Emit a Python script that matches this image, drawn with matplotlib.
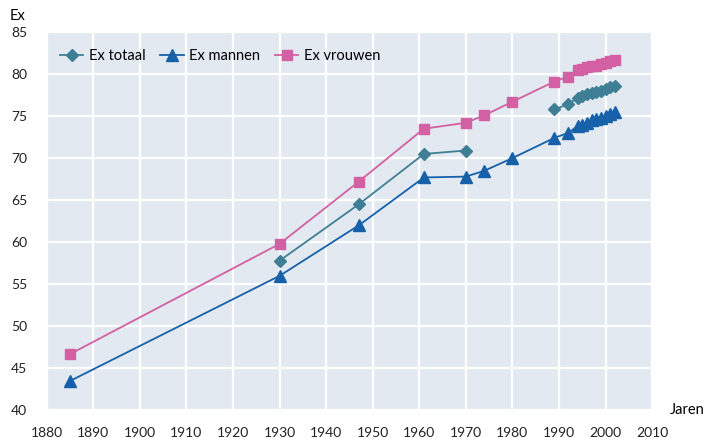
import matplotlib.pyplot as plt
import numpy as np

plt.rcParams['font.family'] = ['Lato', 'DejaVu Sans']

# jaren en levensverwachting (Ex)
jaren = [1885, 1930, 1947, 1961, 1970, 1974, 1980, 1989, 1992,
         1994, 1995, 1996, 1997, 1998, 1999, 2000, 2001, 2002]
ex_totaal = [np.nan, 57.8, 64.5, 70.5, 70.9, np.nan, np.nan, 75.8, 76.4,
             77.2, 77.4, 77.6, 77.8, 77.9, 78.0, 78.2, 78.4, 78.6]
ex_mannen = [43.5, 56.0, 62.0, 67.7, 67.8, 68.5, 70.0, 72.4, 73.0,
             73.8, 73.9, 74.2, 74.5, 74.6, 74.8, 75.0, 75.2, 75.5]
ex_vrouwen = [46.7, 59.8, 67.2, 73.5, 74.2, 75.1, 76.7, 79.1, 79.7,
              80.5, 80.6, 80.8, 80.9, 81.0, 81.2, 81.3, 81.5, 81.7]

fig = plt.figure(figsize=(7.08, 4.38), dpi=100)
ax = fig.add_axes([0.066, 0.063, 0.855, 0.864])
ax.set_facecolor('#e2e9f1')

ax.plot(jaren, ex_totaal, color='#3f7f95', marker='D', markersize=6.5,
        linewidth=1.3, label='Ex totaal')
ax.plot(jaren, ex_mannen, color='#1661a9', marker='^', markersize=8,
        linewidth=1.3, label='Ex mannen')
ax.plot(jaren, ex_vrouwen, color='#d360a2', marker='s', markersize=7.5,
        linewidth=1.3, label='Ex vrouwen')

ax.set_xlim(1880, 2010)
ax.set_ylim(40, 85)
ax.set_xticks(range(1880, 2011, 10))
ax.set_yticks(range(40, 86, 5))
ax.grid(True, color='white', linewidth=1.6)
ax.set_axisbelow(True)
for s in ax.spines.values():
    s.set_visible(False)
ax.tick_params(axis='both', length=0, labelsize=10, colors='#222222')
ax.tick_params(axis='y', pad=14)
ax.tick_params(axis='x', pad=12)

ax.legend(loc='upper left', bbox_to_anchor=(0.0, 0.99), ncol=3, frameon=False,
          fontsize=10.5, handlelength=1.6, handletextpad=0.4,
          columnspacing=1.0, borderaxespad=0.5)

fig.text(0.013, 0.963, 'Ex', fontsize=10.5, va='center', ha='left')
fig.text(0.995, 0.063, 'Jaren', fontsize=10.5, va='center', ha='right')

fig.savefig('out.png', dpi=100)
